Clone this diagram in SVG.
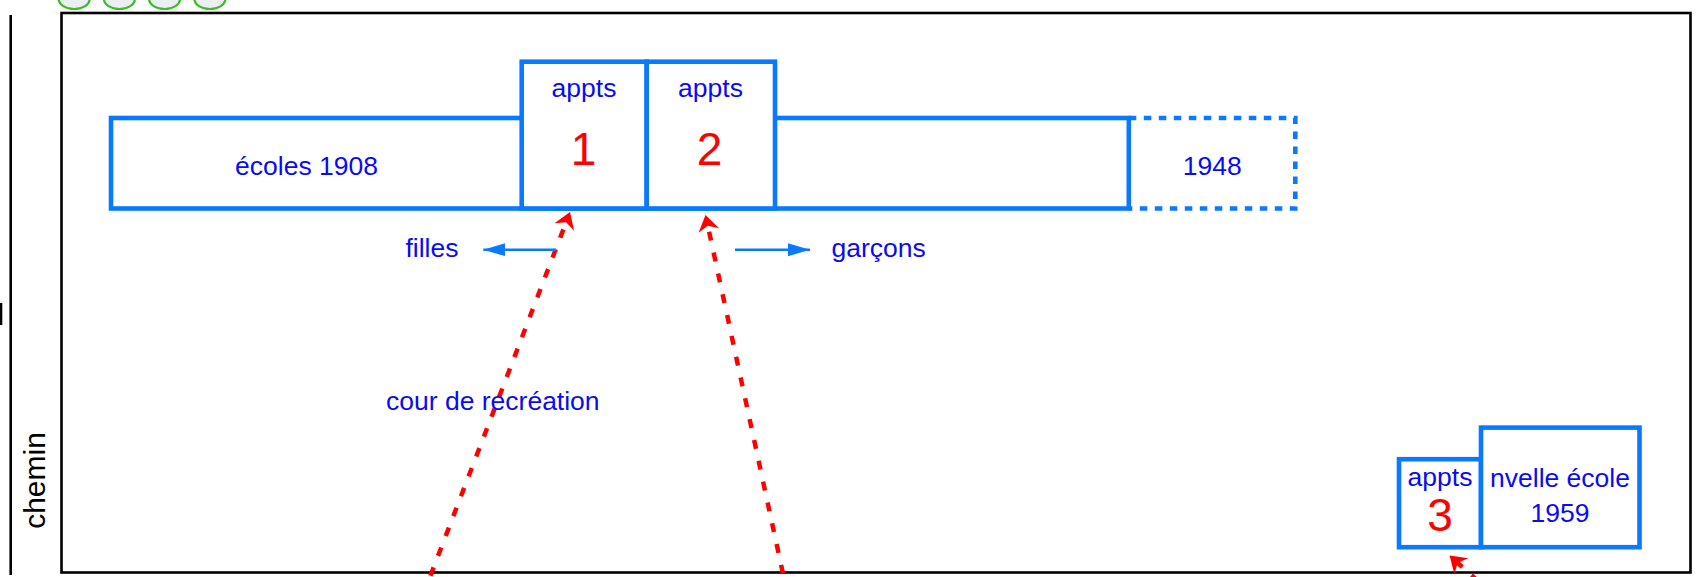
<svg xmlns="http://www.w3.org/2000/svg" width="1698" height="577" viewBox="0 0 1698 577">
  <style>
    .bx { fill: #ffffff; stroke: #097aff; stroke-width: 4.6; }
    .bxd { fill: none; stroke: #097aff; stroke-width: 4.6; stroke-dasharray: 7.5 7.5; }
    .t { font-family: "Liberation Sans", Arial, sans-serif; font-size: 26.5px; fill: #0a0af5; text-anchor: middle; }
    .n { font-family: "Liberation Sans", Arial, sans-serif; font-size: 46px; fill: #ff0000; text-anchor: middle; }
    .blk { fill: none; stroke: #000000; stroke-width: 2.6; }
    .red { fill: none; stroke: #ff0000; stroke-width: 4.5; stroke-dasharray: 9 12.3; }
    .blue { fill: none; stroke: #097aff; stroke-width: 2.5; }
    .grn { fill: #eceff1; stroke: #3dbb2c; stroke-width: 2.2; }
  </style>
  <defs>
    <marker id="redHead" markerUnits="userSpaceOnUse" viewBox="-1 -12 19 24" markerWidth="19" markerHeight="24" refX="5" refY="0" orient="auto">
      <path d="M16,0 L0,-10.5 L5,0 L0,10.5 Z" fill="#ff0000"/>
    </marker>
    <marker id="blueHead" markerUnits="userSpaceOnUse" viewBox="0 -7 23 14" markerWidth="23" markerHeight="14" refX="22" refY="0" orient="auto">
      <path d="M0,-6.5 L22,0 L0,6.5 Z" fill="#097aff"/>
    </marker>
  </defs>
  <rect width="1698" height="577" fill="#ffffff"/>

  <g id="tabs">
    <ellipse class="grn" cx="74.2" cy="-1" rx="15.5" ry="10"/>
    <ellipse class="grn" cx="119.4" cy="-1" rx="15.5" ry="10"/>
    <ellipse class="grn" cx="164.6" cy="-1" rx="15.5" ry="10"/>
    <ellipse class="grn" cx="209.9" cy="-1" rx="15.5" ry="10"/>
  </g>

  <g id="chemin">
    <rect x="0" y="303" width="2.3" height="22" fill="#000000"/>
    <line class="blk" x1="10.7" y1="15" x2="10.7" y2="575"/>
    <text transform="translate(45,480.5) rotate(-90)" x="0" y="0" font-family="'Liberation Sans', Arial, sans-serif" font-size="30" fill="#000000" text-anchor="middle">chemin</text>
  </g>

  <g id="frame">
    <rect class="blk" x="61.5" y="13" width="1629" height="559.5"/>
  </g>

  <g id="connectors">
    <path class="red" d="M422.8,595.7 L566.1,222.3" marker-end="url(#redHead)"/>
    <path class="red" d="M787.5,594.5 L707.8,225.7" marker-end="url(#redHead)"/>
    <path class="red" d="M1494,595.5 L1457.7,562.8" marker-end="url(#redHead)"/>
    <path class="blue" d="M556,249.7 H483.3" marker-end="url(#blueHead)"/>
    <path class="blue" d="M735,249.7 H810" marker-end="url(#blueHead)"/>
  </g>

  <g id="ecoles-1908">
    <rect class="bx" x="111" y="118" width="1017.8" height="90.5"/>
    <text class="t" x="306.5" y="174.5">écoles 1908</text>
  </g>

  <g id="appts-1">
    <rect class="bx" x="521.7" y="61.7" width="125" height="146.8"/>
    <text class="t" x="584" y="96.7">appts</text>
    <text class="n" x="583.5" y="164.5">1</text>
  </g>

  <g id="appts-2">
    <rect class="bx" x="646.7" y="61.7" width="128.3" height="146.8"/>
    <text class="t" x="710.5" y="96.7">appts</text>
    <text class="n" x="709.5" y="164.5">2</text>
  </g>

  <g id="ext-1948">
    <path class="bxd" d="M1128.8,118 H1295.3 V208.5 H1128.8"/>
    <text class="t" x="1212.3" y="175">1948</text>
  </g>

  <g id="filles">
    <text class="t" x="432" y="257">filles</text>
  </g>

  <g id="garcons">
    <text class="t" x="878.7" y="257">garçons</text>
  </g>

  <g id="cour">
    <text class="t" x="492.8" y="410">cour de recréation</text>
  </g>

  <g id="appts-3">
    <rect class="bx" x="1399" y="459.2" width="82" height="88"/>
    <text class="t" x="1440" y="486">appts</text>
    <text class="n" x="1440" y="530.5" font-size="41.5">3</text>
  </g>

  <g id="nvelle-ecole">
    <rect class="bx" x="1481" y="427.6" width="158.5" height="119.6"/>
    <text class="t" x="1560" y="487.3">nvelle école</text>
    <text class="t" x="1560" y="521.7">1959</text>
  </g>
</svg>
